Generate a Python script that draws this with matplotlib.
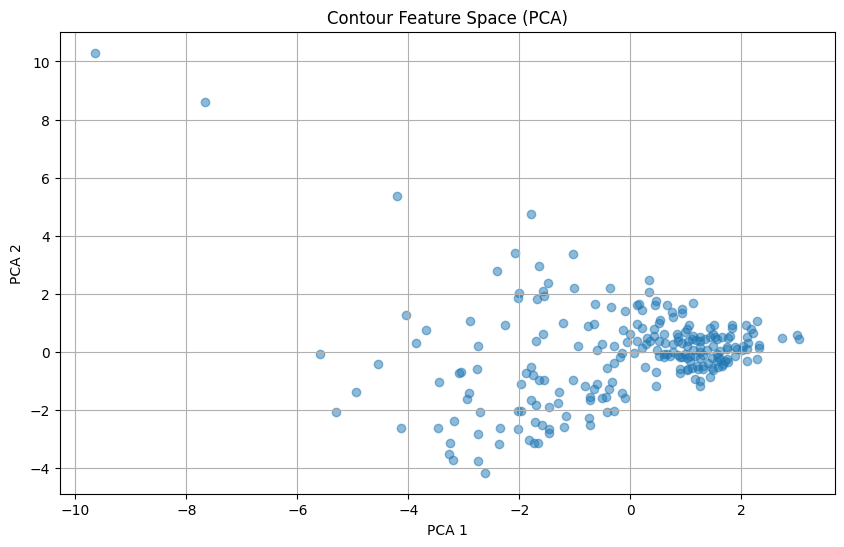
import matplotlib
matplotlib.use("Agg")
import matplotlib.pyplot as plt

# PCA projections
pca1 = [
    -9.65, -7.67, -4.21,
    -4.05, -3.69, -3.87, -2.88, -2.74, -5.60, -4.55, -3.08, -3.05, -2.77, -3.45,
    -4.95, -2.91, -2.95, -5.31, -4.14, -3.47, -3.17, -2.74, -3.24, -3.26, -3.20,
    -2.74, -2.70,
    -1.78, -2.08, -1.04, -2.41, -1.64, -1.49, -2.00, -2.02, -1.58, -1.56, -1.68,
    -1.02, -0.37, -0.64, -0.34, -0.10, -2.25, -1.22, -0.76, -0.66, -1.58, -1.69,
    -0.13, 0.00, -0.05, -0.94, -0.50, -0.59, -0.29, -0.14, 0.07, -0.19, -0.29,
    -0.41, -1.78, -1.88, -1.76, -1.64, -1.56, -1.96, -1.04, -0.82, -0.59, -0.66,
    -0.32, -0.38, -1.28, -0.14, -0.10, -0.73, -0.72, -0.51, -0.44, -1.78, -1.69,
    -1.46, -1.30, -2.02, -1.96, -0.41, -0.29, -1.15, -0.75, -0.72, -2.34, -2.03,
    -1.71, -1.59, -1.46, -1.46, -1.20, -2.37, -1.82, -1.74, -1.67, -2.61,
    0.33, 0.33, 0.12, 0.15, 0.22, 0.46, 0.45, 0.66, 0.75, 0.93, 0.93, 1.14,
    0.78, 0.54, 0.52, 0.13, 0.21, 0.42, 0.60, 1.06, 1.02, 0.85, 1.51, 1.44,
    1.83, 1.83, 2.09, 2.17, 2.29, 2.21, 2.10, 2.33, 2.33, 2.74, 3.00, 3.05,
    0.12, 0.63, 0.21, 0.265, 0.46, 0.46, 0.48, 0.52, 0.60, 0.66, 0.78, 0.87,
    0.93, 1.02, 1.08, 1.17, 1.26, 1.32, 1.47, 1.56, 1.62, 1.74, 1.89, 1.92,
    2.01, 2.10, 2.04, 2.13, 2.28, 2.11, 1.68, 1.65, 1.47, 1.41, 1.32, 1.23,
    1.11, 1.02, 0.90, 0.90, 1.17, 1.25, 1.25, 1.44,
    0.30, 0.36, 0.42, 0.28, 0.52, 0.87, 0.93, 1.05, 1.11, 1.19, 1.26, 1.35,
    1.43, 1.50, 1.56, 1.65, 1.77, 1.80, 1.02, 1.26, 1.50, 1.74, 0.78, 1.14,
    1.62, 1.38, 0.99,
    0.87, 0.99, 1.14, 1.26, 0.60, 0.72, 0.90, 1.08, 1.26, 1.56, 1.05, 1.20,
    1.32, 1.50, 1.53, 1.74, 1.89, 1.59, 1.71, 1.77, 1.59,
]
pca2 = [
    10.30, 8.61, 5.38,
    1.28, 0.77, 0.32, 1.05, 0.19, -0.06, -0.41, -0.73, -0.70, -0.60, -1.03,
    -1.37, -1.43, -1.61, -2.06, -2.61, -2.61, -2.39, -2.82, -3.12, -3.53, -3.71,
    -3.74, -2.08,
    4.76, 3.41, 3.38, 2.80, 2.97, 2.38, 2.04, 1.87, 2.08, 1.92, 1.83,
    2.21, 2.21, 1.66, 1.53, 1.42, 0.91, 1.01, 0.90, 0.97, 0.60, 0.38,
    0.74, 0.60, 0.33, 0.22, 0.26, 0.07, 0.22, -0.05, -0.05, -0.17, -0.37,
    -0.57, -0.52, -0.72, -0.80, -0.96, -0.96, -1.12, -0.96, -1.19, -1.10, -1.28,
    -1.02, -1.28, -1.37, -1.40, -1.58, -1.54, -1.64, -1.58, -1.54, -1.65, -1.84,
    -1.89, -1.76, -2.05, -2.05, -2.07, -2.05, -2.19, -2.27, -2.51, -2.61, -2.64,
    -2.42, -2.51, -2.66, -2.78, -2.57, -3.16, -3.05, -3.12, -3.12, -4.16,
    2.48, 2.06, 1.60, 1.66, 1.45, 1.75, 1.60, 1.62, 1.39, 1.46, 1.34, 1.68,
    1.20, 1.10, 1.00, 0.97, 0.82, 0.79, 0.62, 0.93, 0.79, 0.62, 0.91, 0.82,
    0.94, 0.82, 0.91, 0.79, 1.06, 0.66, 0.51, 0.24, 0.13, 0.48, 0.59, 0.44,
    0.36, 0.31, 0.13, -0.51, -0.70, -1.16, 0.05, -0.15, -0.07, -0.07, -0.01, -0.10,
    -0.18, -0.22, -0.30, -0.15, -0.22, -0.10, -0.22, -0.30, -0.24, -0.26, -0.13, 0.10,
    0.05, 0.10, 0.22, 0.31, -0.24, -0.30, -0.41, -0.47, -0.56, -0.38, -0.47, -0.59,
    -0.56, -0.64, -0.59, -0.72, -0.93, -0.99, -1.18, -0.87,
    0.47, 0.36, 0.56, 0.28, 0.36, 0.39, 0.31, 0.39, 0.45, 0.42, 0.39, 0.45,
    0.51, 0.62, 0.45, 0.51, 0.47, 0.56, 0.22, 0.16, 0.22, 0.16, 0.28, 0.05,
    0.02, 0.05, -0.07,
    0.51, 0.68, 0.56, 0.51, -0.18, -0.13, -0.18, -0.13, -0.01, -0.07, -0.59, -0.47,
    -0.59, -0.64, 0.51, 0.10, 0.16, -0.18, -0.30, -0.36, -0.53,
]

plt.figure(figsize=(10, 6))
plt.scatter(pca1, pca2, alpha=0.5)
plt.title("Contour Feature Space (PCA)")
plt.xlabel("PCA 1")
plt.ylabel("PCA 2")
plt.grid(True)
plt.savefig("out.png", bbox_inches="tight")
